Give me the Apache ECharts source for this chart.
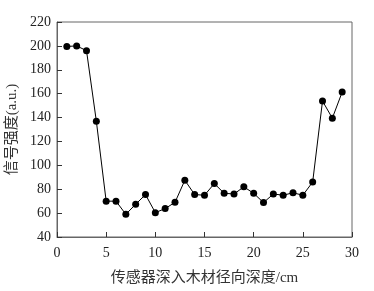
<!DOCTYPE html>
<html>
<head>
<meta charset="utf-8">
<script src="https://cdn.jsdelivr.net/npm/echarts@6/dist/echarts.min.js"></script>
<style>
  html, body { margin: 0; padding: 0; background: #fff; }
  #chart { width: 374px; height: 291px; }
</style>
</head>
<body>
<div id="chart"></div>
<script>
// 传感器深度 (cm) 与信号强度
var depth = [1, 2, 3, 4, 5, 6, 7, 8, 9, 10, 11, 12, 13, 14, 15, 16, 17, 18, 19, 20, 21, 22, 23, 24, 25, 26, 27, 28, 29];
var signal = [199.5, 200, 196, 137, 70, 70, 59, 67.4, 75.5, 60.4, 63.8, 69, 87.5, 75.5, 75, 84.7, 76.6, 76, 82, 76.6, 68.8, 76, 75, 77, 75, 86, 153.8, 139.5, 161.3];

var serif = '"Liberation Serif", "Times New Roman", serif';
var cjk = '"Liberation Serif", "Noto Sans CJK SC", serif';

var points = [];
for (var i = 0; i < depth.length; i++) {
    points.push([depth[i], signal[i]]);
}

var myChart = echarts.init(document.getElementById('chart'));
myChart.setOption({
    animation: false,
    grid: {
        left: 57, right: 22, top: 22, bottom: 54,
        outerBoundsMode: 'none',
        show: true, borderColor: '#666', borderWidth: 1
    },
    xAxis: {
        type: 'value', min: 0, max: 30, interval: 5,
        name: '传感器深入木材径向深度/cm',
        nameLocation: 'middle', nameGap: 34,
        nameTextStyle: { fontFamily: cjk, fontSize: 15, color: '#333' },
        axisLine: { lineStyle: { color: '#666' } },
        axisTick: { inside: true, length: 5, lineStyle: { color: '#333' } },
        axisLabel: { fontFamily: serif, fontSize: 14, color: '#222', margin: 9 },
        splitLine: { show: false }
    },
    yAxis: {
        type: 'value', min: 40, max: 220, interval: 20,
        name: '信号强度(a.u.)',
        nameLocation: 'middle', nameGap: 37,
        nameTextStyle: { fontFamily: cjk, fontSize: 15, color: '#333' },
        axisLine: { show: true, lineStyle: { color: '#666' } },
        axisTick: { show: true, inside: true, length: 5, lineStyle: { color: '#333' } },
        axisLabel: { fontFamily: serif, fontSize: 14, color: '#222', margin: 6 },
        splitLine: { show: false }
    },
    series: [{
        type: 'line',
        data: points,
        symbol: 'circle',
        symbolSize: 7,
        itemStyle: { color: '#000' },
        lineStyle: { color: '#000', width: 1 }
    }]
});
</script>
</body>
</html>
